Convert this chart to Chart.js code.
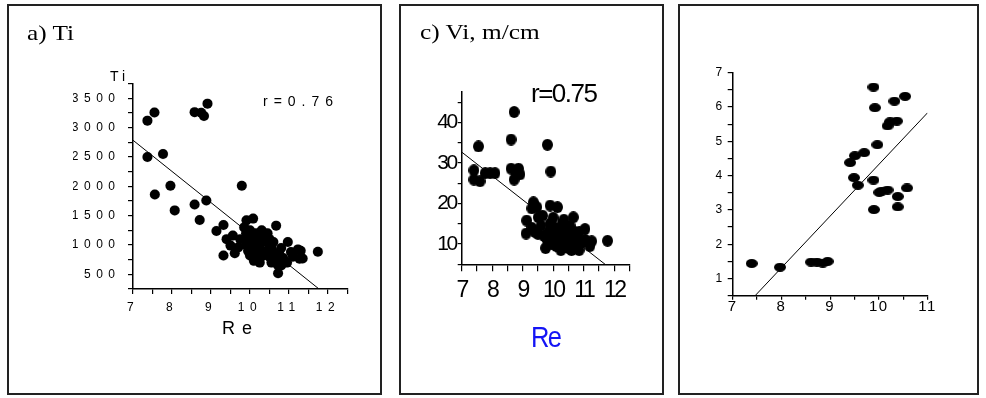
<!DOCTYPE html>
<html>
<head>
<meta charset="utf-8">
<script src="https://cdn.jsdelivr.net/npm/chart.js@4.4.0/dist/chart.umd.min.js"></script>
<style>
  body { margin:0; width:986px; height:398px; overflow:hidden; background:#fff; position:relative;
         font-family:'Liberation Sans', Arial, sans-serif; }
  .panel { position:absolute; top:4px; height:391px; box-sizing:border-box; border:2px solid #222; }
  canvas { position:absolute; }
  .t { position:absolute; line-height:1; white-space:nowrap; color:#000; transform-origin:0 0; }
  .ttl { font-family:'Liberation Serif', 'Times New Roman', serif; font-size:22px; transform:scaleX(1.15); }
  .ttl sub { font-size:14px; vertical-align:-3px; }
  .ttl sup { font-size:14px; vertical-align:8px; }
</style>
</head>
<body>
<div class="panel" style="left:7px;width:375px"></div>
<div class="panel" style="left:399px;width:265px"></div>
<div class="panel" style="left:678px;width:301px"></div>

<canvas id="chartTi" width="373" height="389" style="left:8px;top:5px"></canvas>
<canvas id="chartVi" width="263" height="389" style="left:400px;top:5px"></canvas>
<canvas id="chartNe" width="299" height="389" style="left:679px;top:5px"></canvas>

<!-- panel a -->
<div class="t ttl" style="left:27px;top:21.6px">a) Ti</div>
<div class="t" style="left:110px;top:69px;font-size:14px;letter-spacing:4px">Ti</div>
<div class="t" style="left:263px;top:94px;font-size:14px;letter-spacing:6px">r=0.76</div>
<div class="t" style="left:222px;top:319px;font-size:18px;letter-spacing:7px">Re</div>

<!-- panel c -->
<div class="t ttl" style="left:420px;top:20.6px">c) Vi, m/cm</div>
<div class="t" style="left:531px;top:80px;font-size:26px;letter-spacing:-1.5px">r=0.75</div>
<div class="t" style="left:531px;top:322px;font-size:30px;letter-spacing:-2px;color:#1414f5;transform:scaleX(0.85)">Re</div>

<script>
// a) Ti vs Re
var tiRe = [7.37, 7.55, 7.37, 7.77, 7.56, 7.96, 8.07, 8.58, 8.75, 8.82, 8.91, 8.58, 8.71, 8.88, 9.79,
            9.14, 9.32, 9.32, 9.40, 9.56, 9.50, 9.61, 9.91, 10.08, 10.67, 11.74, 10.97, 11.23, 11.27, 10.72, 10.72,
            9.85, 9.9, 9.95, 10.0, 10.05, 10.1, 10.15, 10.2, 10.25, 10.3, 10.35, 10.4, 10.45, 10.5, 10.55, 10.6,
            9.9, 9.95, 10.0, 10.05, 10.15, 10.2, 10.25, 10.3, 10.35, 10.45, 10.5, 10.6, 10.65, 10.75, 10.8, 10.85,
            10.95, 11.05, 11.1, 11.3, 11.35, 9.75, 9.7, 10.1, 10.55, 10.8];
var tiVal = [3120, 3260, 2500, 2550, 1860, 2010, 1590, 3265, 3255, 3200, 3410, 1690, 1425, 1760, 2010,
             1240, 1340, 820, 1100, 1160, 990, 860, 1420, 1450, 1330, 885, 1050, 925, 765, 520, 650,
             1300, 1200, 1100, 1250, 1150, 1050, 1200, 1100, 1000, 1250, 1150, 1050, 1200, 1100, 950, 1050,
             1000, 900, 820, 950, 880, 760, 700, 900, 820, 900, 800, 880, 750, 850, 950, 780,
             700, 880, 800, 900, 770, 1100, 960, 730, 700, 650];
var tiFitRe = [7, 11.77];
var tiFitVal = [2786, 250];

// c) Vi vs Re
var viRe = [7.40, 7.40, 7.60, 7.55, 7.77, 7.93, 8.09, 8.62, 8.72, 8.62, 8.72, 8.86, 8.91, 8.78, 9.81, 9.92,
            9.35, 9.46, 9.30, 9.13, 9.11, 9.51, 9.90, 10.14, 10.66, 11.04, 11.26, 11.78,
            9.3, 9.4, 9.5, 9.6, 9.7, 9.8, 9.85, 9.9, 9.95, 10.0, 10.05, 10.1, 10.15, 10.2, 10.25, 10.3,
            10.35, 10.4, 10.45, 10.5, 10.55, 10.6, 10.65, 10.7, 10.75, 10.8, 10.85, 10.95, 11.05, 11.2,
            10.35, 10.0, 10.55, 9.65, 10.85, 9.75];
var viVal = [28.2, 25.9, 25.5, 34.1, 27.5, 27.5, 27.5, 35.8, 42.6, 28.6, 25.9, 28.6, 27.2, 27.5, 34.5, 27.9,
             20.3, 19.1, 18.8, 15.8, 12.6, 16.6, 19.5, 19.1, 16.6, 13.7, 10.7, 10.8,
             14, 13, 12.5, 14.5, 12, 11, 13, 15, 10, 12, 14, 9.5, 11, 13, 8.5, 15,
             11.5, 10, 13.5, 9, 12, 8.5, 11, 13, 9, 11, 8.5, 10.5, 11, 9.5,
             16, 16.5, 14.5, 17, 13, 9];
var viFitRe = [7, 11.7];
var viFitVal = [32.7, 5];

// b) Ne max vs Re
var neRe = [7.39, 7.97, 8.61, 8.73, 8.85, 8.95, 9.89, 9.92, 10.32, 10.54, 10.18, 10.23, 10.37, 9.97,
            9.41, 9.51, 9.70, 9.49, 9.57, 9.89, 10.01, 10.06, 10.18, 10.39, 10.58, 9.90, 10.39];
var neVal = [1.44, 1.33, 1.48, 1.48, 1.45, 1.50, 6.58, 5.98, 6.17, 6.31, 5.45, 5.57, 5.59, 4.90,
             4.38, 4.58, 4.67, 3.94, 3.72, 3.87, 3.51, 3.55, 3.58, 3.39, 3.64, 3.01, 3.09];
var neFitRe = [7.46, 11.0];
var neFitVal = [0.5, 5.83];

function pairs(xs, ys) {
    return xs.map(function (x, i) { return {x: x, y: ys[i]}; });
}

function oval(w, h) {
    var c = document.createElement('canvas');
    c.width = w; c.height = h;
    var g = c.getContext('2d');
    g.fillStyle = '#000';
    g.beginPath();
    g.ellipse(w / 2, h / 2, w / 2, h / 2, 0, 0, Math.PI * 2);
    g.fill();
    return c;
}

var spacing = {
    id: 'spacing',
    afterLayout: function (chart, args, opts) {
        Object.keys(chart.scales).forEach(function (k) {
            var s = chart.scales[k];
            if (s._spaced) return;
            s._spaced = true;
            var draw = s.drawLabels;
            s.drawLabels = function (area) {
                var old = this.ctx.letterSpacing;
                this.ctx.letterSpacing = opts.px + 'px';
                draw.call(this, area);
                this.ctx.letterSpacing = old;
            };
        });
    }
};

function axis(o) {
    return {
        type: 'linear',
        min: o.min, max: o.max,
        afterFit: function (s) { if (o.width) s.width = o.width; if (o.height) s.height = o.height; },
        border: {display: true, color: '#000', width: 1.5},
        grid: {display: true, drawOnChartArea: false, drawTicks: true, color: '#000', tickColor: '#000',
               tickLength: o.tick, lineWidth: 1.2},
        ticks: {
            stepSize: o.step, autoSkip: false, maxRotation: 0, includeBounds: o.bounds !== false,
            color: '#000', padding: o.pad,
            font: {family: "'Liberation Sans', Arial, sans-serif", size: o.size},
            callback: function (v) { return Math.abs(v / o.every - Math.round(v / o.every)) < 1e-9 ? v : ''; }
        }
    };
}

function makeChart(id, pts, fit, dot, pad, letter, xs, ys) {
    return new Chart(document.getElementById(id), {
        type: 'scatter',
        data: {
            datasets: [{
                data: pts,
                pointStyle: dot,
                pointRadius: 5,
                backgroundColor: '#000'
            }, {
                data: fit,
                showLine: true,
                borderColor: '#000',
                borderWidth: 1,
                pointRadius: 0
            }]
        },
        options: {
            responsive: false,
            animation: false,
            layout: {padding: pad},
            plugins: {legend: {display: false}, tooltip: {enabled: false}, spacing: {px: letter}},
            scales: {x: xs, y: ys}
        },
        plugins: [spacing]
    });
}

// test: panel a with round dots, panel b with ovals but no overlay text
makeChart('chartTi', pairs(tiRe, tiVal), pairs(tiFitRe, tiFitVal), 'circle',
    {left: 65, right: 33.5, top: 78.7, bottom: 55}, 5.5,
    axis({min: 7, max: 12.5, step: 0.5, every: 1, height: 50, tick: 5, pad: 6.5, size: 12}),
    axis({min: 250, max: 3750, step: 250, every: 500, width: 60, tick: 5, pad: 7.5, size: 12}));

makeChart('chartVi', pairs(viRe, viVal), pairs(viFitRe, viFitVal), oval(11, 12),
    {left: 11.7, right: 33.5, top: 87.1, bottom: 74.7}, -2.5,
    axis({min: 7, max: 12.5, step: 0.5, every: 1, height: 55, tick: 7, pad: 6, size: 23}),
    axis({min: 5, max: 47.5, step: 5, every: 10, width: 50, tick: 4, pad: 2, size: 21, bounds: false}));

makeChart('chartNe', pairs(neRe, neVal), pairs(neFitRe, neFitVal), oval(12, 9),
    {left: 13.7, right: 50.5, top: 67.7, bottom: 58.3}, 1.5,
    axis({min: 7, max: 11, step: 0.5, every: 1, height: 40, tick: 4, pad: -2, size: 15}),
    axis({min: 0.5, max: 7, step: 0.5, every: 1, width: 40, tick: 5, pad: 4, size: 12}));
</script>
</body>
</html>
